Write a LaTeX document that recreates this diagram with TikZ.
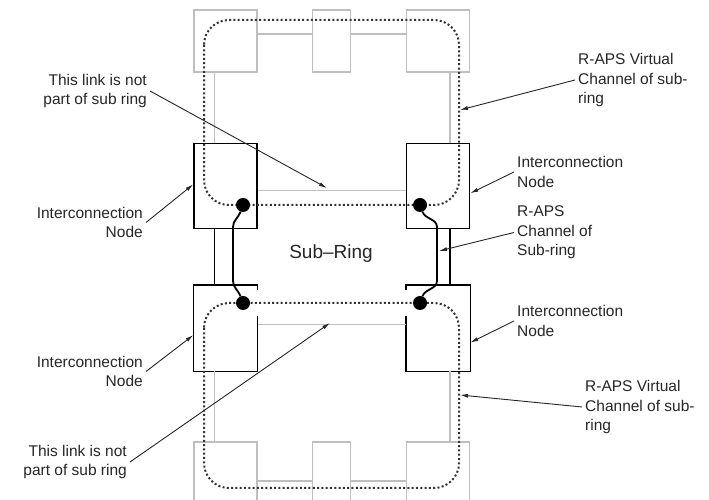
\documentclass[tikz,border=0pt]{standalone}
\usepackage{fontspec}
\setmainfont{Liberation Sans}
\usetikzlibrary{arrows.meta,positioning}

\begin{document}
\begin{tikzpicture}[x=1pt,y=1pt,node distance=70pt,
  font=\fontsize{15.5}{19.5}\selectfont,
  greybox/.style={draw=black!25,line width=1.3pt,minimum width=63pt,minimum height=62pt,inner sep=0pt},
  nodebox/.style={draw=black,line width=1.3pt,minimum width=63pt,minimum height=85pt,inner sep=0pt},
  greylink/.style={black!25,line width=1.3pt},
  blacklink/.style={black,line width=1.3pt},
  ring/.style={draw=black!80,line width=2pt,dash pattern=on 2pt off 2.3pt,rounded corners=25pt},
  dot/.style={circle,fill=black,minimum size=14pt,inner sep=0pt},
  chan/.style={draw=black,line width=1.8pt},
  note/.style={inner sep=3pt,text=black!85},
  callout/.style={-{Latex[length=8pt,width=4pt]},line width=0.9pt,black!85}]
  \useasboundingbox (0,0) rectangle (709,500);

  % major ring nodes (top)
  \node[greybox] (TL) at (225.5,459) {};
  \node[greybox,minimum width=38pt] (TM) [right=54pt of TL] {};
  \node[greybox] (TR) [right=55pt of TM] {};

  % interconnection nodes
  \node[nodebox] (BTL) [below=of TL] {};
  \node[nodebox] (BTR) [below=of TR] {};
  \node[nodebox,draw=none] (BBL) [below=56pt of BTL] {};
  \node[nodebox,draw=none] (BBR) [below=56pt of BTR] {};

  % major ring nodes (bottom)
  \node[greybox,minimum height=70pt] (BL) [below=of BBL] {};
  \node[greybox,minimum height=70pt] (BR) [below=of BBR] {};
  \node[greybox,minimum height=70pt,minimum width=38pt] (BM) [right=54pt of BL] {};

  % lower interconnection nodes, open where the channel enters
  \draw[nodebox] ([yshift=-5pt]BBL.north east) -- (BBL.north east) -- (BBL.north west)
    -- (BBL.south west) -- (BBL.south east) -- ([yshift=55pt]BBL.south east);
  \draw[nodebox] ([yshift=-5pt]BBR.north west) -- (BBR.north west) -- (BBR.north east)
    -- (BBR.south east) -- (BBR.south west) -- ([yshift=55pt]BBR.south west);

  % major ring links
  \path[greylink]
    ([yshift=7pt]TL.east) edge ([yshift=7pt]TM.west)
    ([yshift=7pt]TM.east) edge ([yshift=7pt]TR.west)
    ([yshift=-4pt]BL.east) edge ([yshift=-4pt]BM.west)
    ([yshift=-4pt]BM.east) edge ([yshift=-4pt]BR.west)
    ([xshift=-11pt]TL.south) edge ([xshift=-11pt]BTL.north)
    ([xshift=12pt]TR.south) edge ([xshift=12pt]BTR.north)
    ([xshift=-11pt]BBL.south) edge ([xshift=-11pt]BL.north)
    ([xshift=12pt]BBR.south) edge ([xshift=12pt]BR.north)
    ([yshift=-4.5pt]BTL.east) edge ([yshift=-4.5pt]BTR.west)
    ([yshift=3.5pt]BBL.east) edge ([yshift=3.5pt]BBR.west);

  % sub-ring links
  \path[blacklink]
    ([xshift=-11pt]BTL.south) edge ([xshift=-11pt]BBL.north)
    ([xshift=12pt]BTR.south) edge ([xshift=12pt]BBR.north);

  % virtual channels
  \draw[ring] (204,480) rectangle (459,295);
  \draw[ring] (204,197) rectangle (459,12);

  % channel end points
  \node[dot] (dTL) at (243,295) {};
  \node[dot] (dTR) at (420,295) {};
  \node[dot] (dBL) at (243,197) {};
  \node[dot] (dBR) at (420,197) {};

  % R-APS channel of sub-ring
  \draw[chan] (dTL) to[out=-110,in=90] ++(-10,-22) -- ++(0,-54) to[out=-90,in=110] (dBL);
  \draw[chan] (dTR) to[out=-70,in=90] ++(17,-22) -- ++(0,-54) to[out=-90,in=70] (dBR);

  \node[font=\fontsize{19}{22}\selectfont,text=black!85] (subring) at (331,246) {Sub--Ring};

  % labels
  \node[note,align=right,anchor=east] (linkT) at (150,409) {This link is not\\part of sub ring};
  \node[note,align=right,anchor=east] (linkB) at (130,38) {This link is not\\part of sub ring};
  \node[note,align=right,anchor=east] (icTL) at (146,277.5) {Interconnection\\Node};
  \node[note,align=right,anchor=east] (icBL) at (146,128.5) {Interconnection\\Node};
  \node[note,align=left,anchor=west] (vcT) at (575,420) {R-APS Virtual\\Channel of sub-\\ring};
  \node[note,align=left,anchor=west] (icTR) at (514,328) {Interconnection\\Node};
  \node[note,align=left,anchor=west] (chan) at (514,267.5) {R-APS\\Channel of\\Sub-ring};
  \node[note,align=left,anchor=west] (icBR) at (514,179) {Interconnection\\Node};
  \node[note,align=left,anchor=west] (vcB) at (582,93) {R-APS Virtual\\Channel of sub-\\ring};

  % arrow targets
  \coordinate (linkTend) at (327,312);
  \coordinate (linkBend) at (330,177);
  \coordinate (vcTend) at (460,390);
  \coordinate (chanend) at (439,249);
  \coordinate (vcBend) at (460,105);

  % callouts
  \path[callout]
    (linkT.east) edge (linkTend)
    (linkB.east) edge (linkBend)
    (icTL.east) edge ([yshift=1.5pt]BTL.west)
    (icBL.east) edge ([yshift=-7pt]BBL.west)
    (vcT.west) edge (vcTend)
    (icTR.west) edge ([yshift=-7.5pt]BTR.east)
    (chan.west) edge (chanend)
    (icBR.west) edge ([yshift=-14.5pt]BBR.east)
    (vcB.west) edge (vcBend);
\end{tikzpicture}
\end{document}
